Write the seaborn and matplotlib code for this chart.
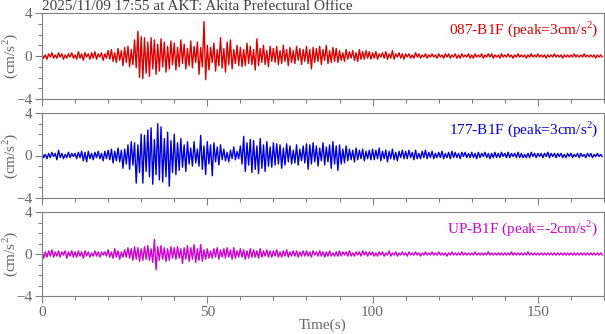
import numpy as np
import matplotlib
matplotlib.use("Agg")
import matplotlib.pyplot as plt
from matplotlib.ticker import MultipleLocator
import seaborn as sns

sns.set_style("white")
plt.rcParams['font.family'] = ['Liberation Serif', 'DejaVu Serif']
plt.rcParams['mathtext.fontset'] = 'custom'
plt.rcParams['mathtext.rm'] = 'Liberation Serif'

title = "2025/11/09 17:55 at AKT: Akita Prefectural Office"
channels = ["087-B1F", "177-B1F", "UP-B1F"]
peaks = ["3", "3", "-2"]
colors = ["#dd0000", "#0000dd", "#d000d0"]
dt = 0.5  # sampling interval (s)

ch087 = [
    0.2,-0.2,0.1,-0.3,0.2,-0.1,0.3,-0.2,0.1,-0.2,0.3,-0.1,0.2,-0.3,0.1,-0.2,0.2,-0.1,0.3,-0.2,
    0.1,-0.3,0.4,-0.2,0.2,-0.4,0.3,-0.1,0.2,-0.3,0.3,-0.2,0.4,-0.3,0.2,-0.1,0.3,-0.4,0.2,-0.2,
    0.5,-0.3,0.6,-0.5,0.3,-0.6,0.7,-0.4,0.5,-0.9,0.8,-0.6,0.9,-1.0,0.6,-0.8,1.5,-1.1,2.3,-2.0,
    1.8,-2.1,1.7,-1.6,1.3,-1.9,1.7,-1.2,1.5,-1.7,1.1,-1.4,1.6,-1.0,1.3,-1.5,0.9,-1.2,1.4,-0.8,
    1.2,-1.3,0.8,-1.0,1.5,-0.7,1.1,-1.2,0.7,-0.9,1.4,-1.1,0.9,-0.6,1.3,-1.7,0.8,-1.0,3.2,-2.2,
    1.0,-1.3,0.8,-0.6,1.2,-1.4,0.6,-0.9,1.7,-1.1,0.7,-1.5,1.3,-0.8,1.5,-1.2,0.6,-0.7,1.0,-0.9,
    0.8,-1.0,0.6,-0.9,1.2,-0.7,0.9,-0.8,0.6,-1.3,1.6,-0.9,0.7,-0.6,1.0,-0.8,0.5,-1.0,0.9,-0.5,
    0.7,-0.6,0.9,-0.8,0.5,-0.7,1.0,-0.5,0.6,-0.9,0.8,-0.6,0.5,-0.7,0.9,-0.4,0.7,-0.8,0.6,-0.5,
    0.9,-0.7,0.6,-1.2,0.8,-0.6,0.7,-0.5,0.9,-0.8,0.6,-0.4,1.0,-0.7,0.5,-0.6,0.8,-0.5,0.7,-0.6,
    0.5,-0.4,0.3,-0.5,0.6,-0.3,0.4,-0.2,0.5,-0.4,0.3,-0.5,0.6,-0.3,0.4,-0.3,0.5,-0.2,0.4,-0.3,
    0.3,-0.2,0.4,-0.3,0.2,-0.1,0.3,-0.2,0.4,-0.3,0.2,-0.2,0.5,-0.3,0.2,-0.1,0.3,-0.2,0.2,-0.3,
    0.2,-0.1,0.2,-0.2,0.1,-0.2,0.3,-0.1,0.2,-0.2,0.1,-0.1,0.2,-0.2,0.1,-0.1,0.2,-0.1,0.1,-0.2,
    0.2,-0.1,0.1,-0.2,0.2,-0.1,0.2,-0.2,0.1,-0.1,0.2,-0.2,0.1,-0.2,0.2,-0.1,0.1,-0.1,0.2,-0.2,
    0.1,-0.2,0.2,-0.1,0.1,-0.1,0.2,-0.2,0.1,-0.1,0.2,-0.1,0.2,-0.2,0.1,-0.1,0.1,-0.2,0.2,-0.1,
    0.1,-0.1,0.2,-0.1,0.1,-0.2,0.1,-0.1,0.2,-0.1,0.1,-0.1,0.1,-0.2,0.1,-0.1,0.2,-0.1,0.1,-0.1,
    0.2,-0.1,0.1,-0.1,0.1,-0.2,0.1,-0.1,0.1,-0.1,0.2,-0.1,0.1,-0.1,0.1,-0.2,0.1,-0.1,0.1,-0.1,
    0.1,-0.1,0.2,-0.1,0.1,-0.1,0.1,-0.1,0.2,-0.1,0.1,-0.1,0.1,-0.1,0.1,-0.2,0.1,-0.1,0.1,-0.1,
]

ch177 = [
    0.3,-0.2,0.1,-0.3,0.2,-0.2,0.3,-0.1,0.2,-0.4,0.5,-0.2,0.2,-0.3,0.1,-0.2,0.3,-0.2,0.2,-0.1,
    0.2,-0.3,0.3,-0.2,0.4,-0.5,0.3,-0.6,0.4,-0.3,0.2,-0.4,0.3,-0.2,0.4,-0.3,0.2,-0.5,0.4,-0.3,
    0.5,-0.4,0.6,-0.7,0.4,-0.5,0.7,-0.6,0.5,-1.2,0.6,-0.8,1.0,-1.3,1.3,-0.9,1.2,-2.6,1.0,-1.6,
    2.0,-2.6,1.9,-1.5,2.4,-2.0,2.6,-2.7,1.5,-1.8,3.0,-2.3,2.7,-2.5,1.6,-2.0,2.2,-2.9,1.4,-1.6,
    2.0,-1.8,1.2,-1.4,1.6,-1.1,1.0,-1.5,1.3,-0.8,0.7,-1.0,1.3,-0.7,0.6,-1.0,1.9,-1.3,0.9,-1.8,
    1.3,-0.8,1.0,-1.9,1.2,-0.6,0.8,-0.9,1.0,-0.4,0.6,-0.5,0.3,-0.6,0.5,-0.3,0.8,-0.4,0.4,-0.3,
    0.9,-0.8,1.8,-1.5,1.2,-0.9,1.5,-1.6,1.4,-1.3,0.9,-1.7,1.6,-1.2,1.0,-1.5,1.3,-1.0,0.8,-1.1,
    1.2,-0.9,1.1,-0.8,1.0,-1.2,0.7,-0.9,1.1,-0.6,0.9,-0.8,0.5,-0.7,1.0,-0.9,0.6,-0.5,0.9,-0.7,
    1.1,-1.3,1.0,-0.8,1.2,-0.6,0.9,-1.0,0.7,-0.5,1.2,-0.9,0.8,-0.6,1.0,-1.2,1.3,-0.8,0.9,-1.4,
    1.0,-0.8,0.6,-0.7,0.9,-0.5,0.6,-0.4,0.5,-0.6,0.7,-0.4,0.5,-0.3,0.6,-0.5,0.4,-0.3,0.5,-0.4,
    0.6,-0.4,0.5,-0.3,0.7,-0.5,0.4,-0.3,0.5,-0.6,0.4,-0.3,0.6,-0.4,0.3,-0.5,0.4,-0.2,0.5,-0.3,
    0.4,-0.3,0.5,-0.2,0.3,-0.4,0.5,-0.3,0.2,-0.3,0.4,-0.2,0.5,-0.3,0.3,-0.2,0.4,-0.3,0.2,-0.2,
    0.3,-0.2,0.4,-0.3,0.2,-0.2,0.3,-0.3,0.4,-0.2,0.3,-0.2,0.2,-0.3,0.3,-0.1,0.3,-0.2,0.2,-0.2,
    0.3,-0.2,0.2,-0.3,0.3,-0.2,0.2,-0.1,0.3,-0.2,0.2,-0.3,0.2,-0.2,0.3,-0.2,0.2,-0.2,0.3,-0.1,
    0.2,-0.2,0.3,-0.2,0.2,-0.1,0.2,-0.2,0.3,-0.2,0.2,-0.2,0.1,-0.2,0.2,-0.2,0.3,-0.1,0.2,-0.2,
    0.2,-0.1,0.2,-0.2,0.2,-0.1,0.3,-0.2,0.2,-0.1,0.2,-0.2,0.2,-0.1,0.2,-0.2,0.1,-0.2,0.2,-0.1,
    0.2,-0.2,0.1,-0.1,0.2,-0.2,0.2,-0.1,0.1,-0.2,0.2,-0.1,0.2,-0.2,0.1,-0.1,0.2,-0.1,0.1,-0.1,
]

chUP = [
    0.3,-0.4,0.2,-0.3,0.3,-0.2,0.4,-0.3,0.2,-0.2,0.3,-0.3,0.2,-0.1,0.3,-0.4,0.2,-0.2,0.3,-0.3,
    0.2,-0.3,0.3,-0.2,0.2,-0.4,0.3,-0.2,0.2,-0.3,0.1,-0.2,0.3,-0.2,0.2,-0.3,0.2,-0.1,0.2,-0.2,
    0.4,-0.3,0.2,-0.4,0.5,-0.3,0.3,-0.5,0.2,-0.3,0.4,-0.3,0.6,-0.4,0.5,-0.6,0.7,-0.5,0.6,-0.7,
    0.5,-0.6,0.7,-0.5,0.8,-0.6,0.5,-0.8,1.4,-1.5,0.7,-0.6,0.8,-0.5,0.6,-0.7,0.5,-0.6,0.7,-0.4,
    0.6,-0.5,0.7,-0.4,0.5,-0.9,0.6,-0.5,0.8,-0.7,0.6,-0.5,0.9,-0.8,0.5,-0.6,0.9,-0.7,0.4,-0.5,
    0.5,-0.4,0.3,-0.4,0.5,-0.3,0.6,-0.5,0.4,-0.3,0.5,-0.4,0.6,-0.3,0.4,-0.5,0.6,-0.4,0.3,-0.3,
    0.5,-0.3,0.4,-0.5,0.3,-0.4,0.5,-0.3,0.4,-0.3,0.3,-0.4,0.5,-0.3,0.3,-0.2,0.4,-0.3,0.3,-0.3,
    0.3,-0.2,0.4,-0.3,0.2,-0.3,0.3,-0.2,0.4,-0.3,0.2,-0.2,0.3,-0.2,0.3,-0.3,0.2,-0.2,0.3,-0.2,
    0.3,-0.2,0.2,-0.3,0.3,-0.1,0.2,-0.2,0.3,-0.2,0.2,-0.3,0.2,-0.2,0.3,-0.2,0.1,-0.2,0.2,-0.2,
    0.3,-0.2,0.2,-0.1,0.2,-0.2,0.3,-0.2,0.1,-0.2,0.2,-0.1,0.2,-0.2,0.3,-0.1,0.2,-0.2,0.2,-0.1,
    0.2,-0.2,0.1,-0.2,0.2,-0.1,0.2,-0.2,0.1,-0.1,0.3,-0.2,0.1,-0.1,0.2,-0.2,0.1,-0.1,0.2,-0.1,
    0.1,-0.2,0.2,-0.1,0.1,-0.1,0.2,-0.1,0.1,-0.2,0.1,-0.1,0.2,-0.1,0.1,-0.1,0.2,-0.1,0.1,-0.1,
    0.2,-0.1,0.1,-0.1,0.1,-0.2,0.1,-0.1,0.2,-0.1,0.1,-0.1,0.1,-0.1,0.2,-0.1,0.1,-0.1,0.1,-0.1,
    0.1,-0.1,0.2,-0.1,0.1,-0.1,0.1,-0.1,0.1,-0.1,0.2,-0.1,0.1,-0.1,0.1,-0.1,0.1,-0.1,0.1,-0.1,
    0.1,-0.1,0.1,-0.1,0.2,-0.1,0.1,-0.1,0.1,-0.1,0.1,-0.1,0.1,-0.1,0.2,-0.1,0.1,-0.1,0.1,-0.1,
    0.1,-0.1,0.1,-0.1,0.1,-0.1,0.1,-0.1,0.1,-0.1,0.1,-0.1,0.1,-0.1,0.1,-0.1,0.1,-0.1,0.1,-0.1,
    0.1,-0.1,0.1,-0.1,0.1,-0.1,0.1,-0.1,0.1,-0.1,0.1,-0.1,0.1,-0.1,0.1,-0.1,0.1,-0.1,0.1,-0.1,
]

series = [ch087, ch177, chUP]

GRAY = "#808080"
TXT = "#666666"
FS = 11
fig = plt.figure(figsize=(6.05, 3.34), dpi=100)
W, H = 605, 334
boxes = [(13, 99), (113, 198), (212, 296)]
axes = []
for (top, bot) in boxes:
    ax = fig.add_axes([42 / W, 1 - bot / H, 562 / W, (bot - top) / H])
    axes.append(ax)

for i, ax in enumerate(axes):
    vals = np.array(series[i])
    t = np.arange(len(vals)) * dt
    sns.lineplot(x=t, y=vals, ax=ax, color=colors[i], linewidth=1.0)
    ax.set_xlim(0, 170)
    ax.set_ylim(-4, 4)
    ax.set_yticks([-4, 0, 4])
    ax.yaxis.set_minor_locator(MultipleLocator(1))
    ax.set_xticks([0, 50, 100, 150])
    ax.xaxis.set_minor_locator(MultipleLocator(10))
    ax.tick_params(axis='both', which='major', length=5, width=0.8, color=GRAY,
                   labelcolor=TXT, labelsize=FS, direction='out',
                   bottom=True, left=True, top=False, right=False, pad=2)
    ax.tick_params(axis='both', which='minor', length=3, width=0.8, color=GRAY,
                   direction='out', bottom=True, left=True, top=False, right=False)
    for s in ax.spines.values():
        s.set_color(GRAY)
        s.set_linewidth(0.8)
    ax.set_ylabel("(cm/s$^2$)", color=TXT, fontsize=FS)
    ax.yaxis.set_label_coords(-22 / 562, 0.5)
    ax.set_xlabel("")
    if i < 2:
        ax.set_xticklabels([])
    ax.text(0.99, 0.93, f"{channels[i]} (peak={peaks[i]}cm/s$^2$)", transform=ax.transAxes,
            ha='right', va='top', color=colors[i], fontsize=FS)

axes[2].set_xlabel("Time(s)", color=TXT, fontsize=FS, labelpad=0)
fig.text(42 / W, 1 - 0.5 / H, title, ha='left', va='top', color="#404040", fontsize=FS)

fig.savefig("out.png", dpi=100)
